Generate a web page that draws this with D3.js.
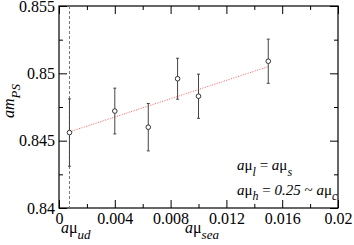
<!DOCTYPE html>
<html>
<head>
<meta charset="utf-8">
<script src="https://cdn.jsdelivr.net/npm/d3@7"></script>
<style>
html,body{margin:0;padding:0;background:#fff;}
svg{display:block;}
svg text{font-family:"Liberation Serif","Times New Roman",Times,"DejaVu Serif",serif !important;}
</style>
</head>
<body>
<svg id="chart" width="354" height="245"></svg>
<script>
// data
const muSea = [0.00075, 0.004, 0.0064, 0.0085, 0.010, 0.015];
const amPS = [0.8456, 0.8472, 0.8460, 0.8496, 0.8483, 0.8509];
const amPSerr = [0.0025, 0.0017, 0.00176, 0.00152, 0.00164, 0.00164];
const fitX = [0.00075, 0.015];
const fitY = [0.84565, 0.8505];
const muUd = 0.00075;
const xTicks = [0, 0.004, 0.008, 0.012, 0.016, 0.02];
const xTickLabels = ["0", "0.004", "0.008", "0.012", "0.016", "0.02"];
const xMinor = [0.002, 0.006, 0.010, 0.014, 0.018];
const yTicks = [0.84, 0.845, 0.85, 0.855];
const yTickLabels = ["0.84", "0.845", "0.85", "0.855"];
const yMinor = [0.8425, 0.8475, 0.8525];

const FONT = '"Liberation Serif","Times New Roman",Times,"DejaVu Serif",serif';
const svg = d3.select("#chart");
const L = 59, R = 338, T = 6, B = 208;
const x = d3.scaleLinear().domain([0, 0.02]).range([L, R]);
const y = d3.scaleLinear().domain([0.84, 0.855]).range([B, T]);

function styleAxis(g){
  g.attr("font-family", FONT);
  g.select(".domain").remove();
  g.selectAll("line").attr("stroke","#000").attr("stroke-width",1);
}
const fmtX = d=>xTickLabels[xTicks.indexOf(d)];
const fmtY = d=>yTickLabels[yTicks.indexOf(d)];

const gb = svg.append("g").attr("transform",`translate(0,${B})`)
  .call(d3.axisBottom(x).tickValues(xTicks).tickSize(-8).tickPadding(5).tickFormat(fmtX)).call(styleAxis);
gb.selectAll("text").attr("font-size",16).attr("fill","#000");
svg.append("g").attr("transform",`translate(0,${B})`)
  .call(d3.axisBottom(x).tickValues(xMinor).tickSize(-4).tickFormat("")).call(styleAxis);
svg.append("g").attr("transform",`translate(0,${T})`)
  .call(d3.axisTop(x).tickValues(xTicks).tickSize(-8).tickFormat("")).call(styleAxis);
svg.append("g").attr("transform",`translate(0,${T})`)
  .call(d3.axisTop(x).tickValues(xMinor).tickSize(-4).tickFormat("")).call(styleAxis);

const gl = svg.append("g").attr("transform",`translate(${L},0)`)
  .call(d3.axisLeft(y).tickValues(yTicks).tickSize(-8).tickPadding(4).tickFormat(fmtY)).call(styleAxis);
gl.selectAll("text").attr("font-size",16).attr("fill","#000");
svg.append("g").attr("transform",`translate(${L},0)`)
  .call(d3.axisLeft(y).tickValues(yMinor).tickSize(-4).tickFormat("")).call(styleAxis);
svg.append("g").attr("transform",`translate(${R},0)`)
  .call(d3.axisRight(y).tickValues(yTicks).tickSize(-8).tickFormat("")).call(styleAxis);
svg.append("g").attr("transform",`translate(${R},0)`)
  .call(d3.axisRight(y).tickValues(yMinor).tickSize(-4).tickFormat("")).call(styleAxis);

// frame
svg.append("rect").attr("x",L).attr("y",T).attr("width",R-L).attr("height",B-T)
  .attr("fill","none").attr("stroke","#000").attr("stroke-width",1.2);

// dashed vertical line at mu_ud
svg.append("line").attr("x1",x(muUd)).attr("x2",x(muUd)).attr("y1",y(0.855)).attr("y2",y(0.84))
  .attr("stroke","#777").attr("stroke-width",1).attr("stroke-dasharray","3,2");

// fit line
svg.append("path").datum(fitX.map((d,i)=>[d,fitY[i]]))
  .attr("d", d3.line().x(d=>x(d[0])).y(d=>y(d[1])))
  .attr("fill","none").attr("stroke","#ff5a5a").attr("stroke-width",1).attr("stroke-dasharray","1,1.5");

// error bars
const pts = muSea.map((d,i)=>({x:d,y:amPS[i],e:amPSerr[i]}));
const eb = svg.append("g").attr("stroke","#444").attr("stroke-width",1);
eb.selectAll("line.v").data(pts).join("line")
  .attr("x1",d=>x(d.x)).attr("x2",d=>x(d.x)).attr("y1",d=>y(d.y+d.e)).attr("y2",d=>y(d.y-d.e));
eb.selectAll("line.t").data(pts).join("line")
  .attr("x1",d=>x(d.x)-1.5).attr("x2",d=>x(d.x)+1.5).attr("y1",d=>y(d.y+d.e)).attr("y2",d=>y(d.y+d.e));
eb.selectAll("line.b").data(pts).join("line")
  .attr("x1",d=>x(d.x)-1.5).attr("x2",d=>x(d.x)+1.5).attr("y1",d=>y(d.y-d.e)).attr("y2",d=>y(d.y-d.e));
svg.append("g").selectAll("circle").data(pts).join("circle")
  .attr("cx",d=>x(d.x)).attr("cy",d=>y(d.y)).attr("r",2.3)
  .attr("fill","#fff").attr("stroke","#333").attr("stroke-width",1);

// rich text helper
function rich(sel, parts, size){
  sel.attr("font-family", FONT);
  const subSize = Math.round(size*0.8);
  let inSub = false;
  parts.forEach(p=>{
    const ts = sel.append("tspan").text(p.t)
      .attr("font-style", p.i ? "italic" : "normal")
      .attr("font-size", p.sub ? subSize : size);
    if (p.sub && !inSub){ ts.attr("dy", size*0.38); inSub = true; }
    else if (!p.sub && inSub){ ts.attr("dy", -size*0.38); inSub = false; }
  });
}

// y label
const yl = svg.append("text").attr("transform","translate(14,118) rotate(-90)").attr("fill","#000");
rich(yl, [{t:"am",i:true},{t:"PS",i:true,sub:true}], 16);

// x labels
const xl = svg.append("text").attr("x",185).attr("y",233).attr("fill","#000");
rich(xl, [{t:"a",i:true},{t:"μ"},{t:"sea",i:true,sub:true}], 16);
const xu = svg.append("text").attr("x",61).attr("y",233).attr("fill","#000");
rich(xu, [{t:"a",i:true},{t:"μ"},{t:"ud",i:true,sub:true}], 16);

// legend text
const t1 = svg.append("text").attr("x",237).attr("y",170).attr("fill","#000");
rich(t1, [{t:"a",i:true},{t:"μ"},{t:"l",i:true,sub:true},{t:" = "},{t:"a",i:true},{t:"μ"},{t:"s",i:true,sub:true}], 15);
const t2 = svg.append("text").attr("x",237).attr("y",194.5).attr("fill","#000");
rich(t2, [{t:"a",i:true},{t:"μ"},{t:"h",i:true,sub:true},{t:" = "},{t:"0.25",i:true},{t:" ~ "},{t:"a",i:true},{t:"μ"},{t:"c",i:true,sub:true}], 15);
</script>
</body>
</html>
